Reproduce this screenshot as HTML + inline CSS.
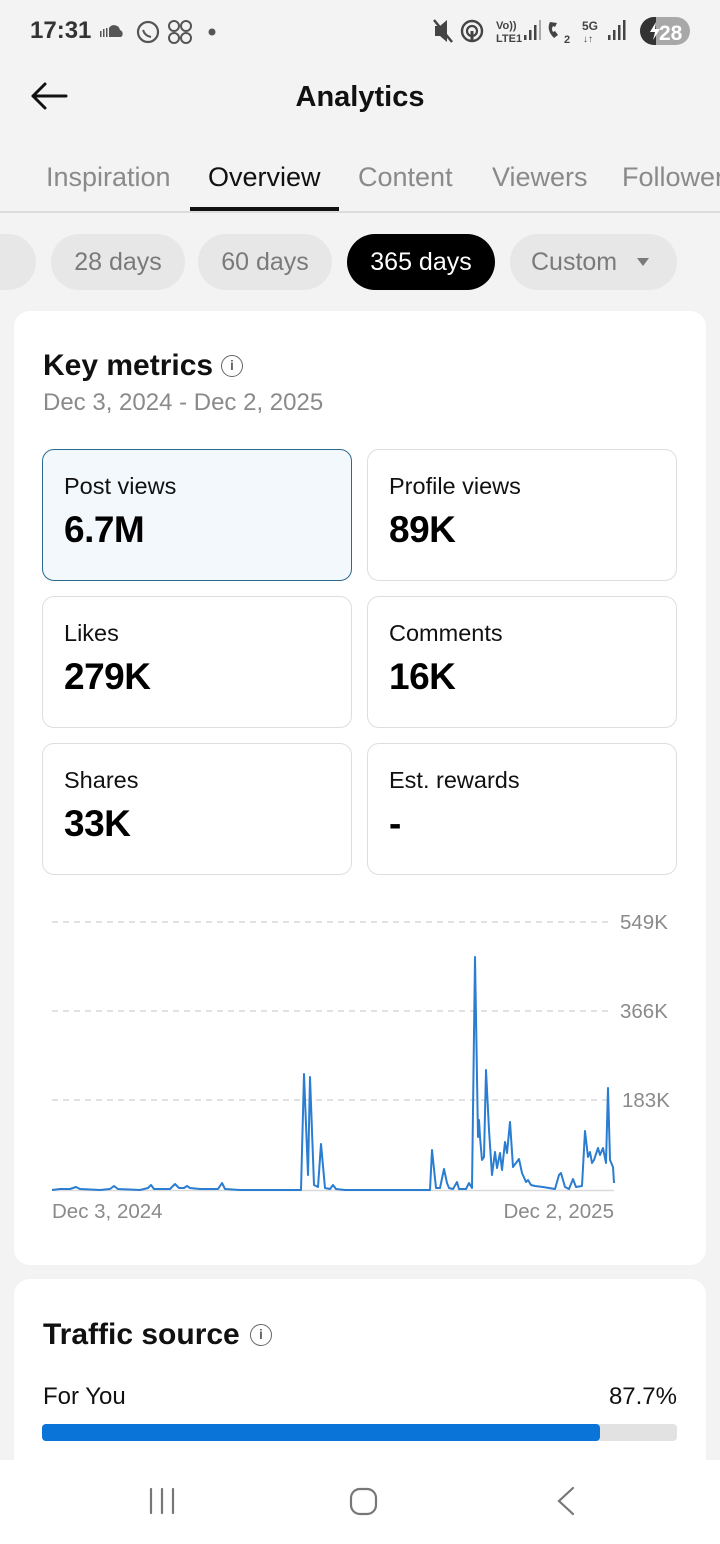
<!DOCTYPE html>
<html><head><meta charset="utf-8">
<style>
*{margin:0;padding:0;box-sizing:border-box}
html,body{width:720px;height:1544px;overflow:hidden;background:#f3f3f3;font-family:"Liberation Sans",sans-serif;}
.a{position:absolute;white-space:nowrap}
.tab{position:absolute;top:161px;font-size:27px;color:#8a8a8a;line-height:32px}
.chip{position:absolute;top:234px;height:56px;border-radius:28px;background:#e7e7e7;color:#7a7a7a;font-size:25px;line-height:56px;text-align:center}
.card{position:absolute;left:14px;width:692px;background:#fff;border-radius:16px}
.box{position:absolute;width:310px;height:132px;border:1.5px solid #dedede;border-radius:12px;background:#fff}
.box .l{position:absolute;left:21px;top:22px;font-size:23.5px;line-height:28px;color:#111}
.box .v{position:absolute;left:21px;top:58px;font-size:37px;font-weight:bold;line-height:44px;color:#000;letter-spacing:-0.5px}
.info{position:absolute;width:22px;height:22px;border:1.8px solid #666;border-radius:50%;font-size:14px;line-height:18px;text-align:center;color:#666;font-weight:bold}
</style></head><body>

<!-- status bar -->
<div class="a" style="left:30px;top:17px;font-size:24px;font-weight:bold;color:#333;line-height:28px">17:31</div>
<svg class="a" style="left:98px;top:18px" width="125" height="28" viewBox="0 0 125 28">
  <g fill="#555"><rect x="2" y="13" width="1.5" height="6"/><rect x="5" y="11" width="1.5" height="8"/><rect x="8" y="10" width="1.5" height="9"/><path d="M11 19 V10 a6 6 0 0 1 11 2 a4 4 0 0 1 1 7 z"/></g>
  <circle cx="50" cy="14" r="10" fill="none" stroke="#555" stroke-width="2.2"/>
  <path d="M45 12 q2 6 8 7" fill="none" stroke="#555" stroke-width="2"/>
  <g fill="none" stroke="#555" stroke-width="2"><circle cx="76" cy="8" r="5"/><circle cx="88" cy="8" r="5"/><circle cx="76" cy="20" r="5"/><circle cx="88" cy="20" r="5"/></g>
  <circle cx="114" cy="14" r="3.5" fill="#555"/>
</svg>
<svg class="a" style="left:430px;top:14px" width="270" height="34" viewBox="0 0 270 34">
  <g fill="#444">
    <path d="M5 12 h5 l7 -6 v22 l-7 -6 h-5z"/>
    <path d="M4 6 l18 22" stroke="#444" stroke-width="2.5"/>
    <circle cx="42" cy="17" r="10" fill="none" stroke="#444" stroke-width="2.4"/>
    <circle cx="42" cy="17" r="5" fill="none" stroke="#444" stroke-width="2.2"/>
    <rect x="40.5" y="17" width="3" height="10"/>
    <text x="66" y="15" font-size="11" font-family="Liberation Sans" font-weight="bold">Vo))</text>
    <text x="66" y="28" font-size="11" font-family="Liberation Sans" font-weight="bold">LTE1</text>
    <rect x="94" y="21" width="2.5" height="5"/><rect x="99" y="16" width="2.5" height="10"/><rect x="104" y="11" width="2.5" height="15"/><rect x="109" y="6" width="2" height="20" fill="#aaa"/>
    <path d="M120 8 q-4 8 4 16 l4 -3 l-3 -4 l-2 1 q-2 -3 0 -6 l2 1 l2 -4 z"/>
    <text x="134" y="29" font-size="11" font-family="Liberation Sans" font-weight="bold">2</text>
    <text x="152" y="16" font-size="12" font-family="Liberation Sans" font-weight="bold">5G</text>
    <text x="153" y="28" font-size="10" font-family="Liberation Sans" font-weight="bold">↓↑</text>
    <rect x="178" y="21" width="2.5" height="5"/><rect x="183" y="16" width="2.5" height="10"/><rect x="188" y="11" width="2.5" height="15"/><rect x="193" y="6" width="2.5" height="20"/>
  </g>
  <rect x="210" y="3" width="50" height="28" rx="14" fill="#a8a8a8"/>
  <path d="M224 3 a14 14 0 0 0 0 28 h2 v-28z" fill="#333"/>
  <path d="M226 8 l-6 10 h5 l-2 8 l7 -11 h-5z" fill="#fff"/>
  <text x="229" y="26" font-size="21" font-family="Liberation Sans" font-weight="bold" fill="#fff">28</text>
</svg>

<!-- header -->
<svg class="a" style="left:28px;top:80px" width="42" height="32" viewBox="0 0 42 32">
  <path d="M38 16 H5 M17 4 L5 16 L17 28" fill="none" stroke="#111" stroke-width="3" stroke-linecap="round" stroke-linejoin="round"/>
</svg>
<div class="a" style="left:0;width:720px;top:80px;text-align:center;font-size:29px;font-weight:bold;color:#111;line-height:34px">Analytics</div>

<!-- tabs -->
<div class="tab" style="left:46px">Inspiration</div>
<div class="tab" style="left:208px;color:#111">Overview</div>
<div class="tab" style="left:358px">Content</div>
<div class="tab" style="left:492px">Viewers</div>
<div class="tab" style="left:622px">Followers</div>
<div class="a" style="left:0;top:211px;width:720px;height:2px;background:#dcdcdc"></div>
<div class="a" style="left:190px;top:207px;width:149px;height:4px;background:#111"></div>

<!-- chips -->
<div class="chip" style="left:-100px;width:136px"></div>
<div class="chip" style="left:51px;width:134px">28 days</div>
<div class="chip" style="left:198px;width:134px">60 days</div>
<div class="chip" style="left:347px;width:148px;background:#000;color:#fff">365 days</div>
<div class="chip" style="left:510px;width:167px;text-align:left;padding-left:21px">Custom</div>
<svg class="a" style="left:636px;top:257px" width="14" height="10" viewBox="0 0 14 10"><path d="M1 1 H13 L7 9z" fill="#7a7a7a"/></svg>

<!-- card 1 -->
<div class="card" style="top:311px;height:954px"></div>
<div class="a" style="left:43px;top:349px;font-size:30px;font-weight:bold;color:#111;line-height:34px">Key metrics</div>
<div class="info" style="left:221px;top:355px">i</div>
<div class="a" style="left:43px;top:389px;font-size:24px;color:#8a8a8a;line-height:28px">Dec 3, 2024 - Dec 2, 2025</div>

<div class="box" style="left:42px;top:449px;background:#f2f8fc;border-color:#2a6a8e"><div class="l">Post views</div><div class="v">6.7M</div></div>
<div class="box" style="left:367px;top:449px"><div class="l">Profile views</div><div class="v">89K</div></div>
<div class="box" style="left:42px;top:596px"><div class="l">Likes</div><div class="v">279K</div></div>
<div class="box" style="left:367px;top:596px"><div class="l">Comments</div><div class="v">16K</div></div>
<div class="box" style="left:42px;top:743px"><div class="l">Shares</div><div class="v">33K</div></div>
<div class="box" style="left:367px;top:743px"><div class="l">Est. rewards</div><div class="v">-</div></div>

<!-- chart -->
<svg class="a" style="left:0;top:900px" width="720" height="330" viewBox="0 900 720 330">
  <g stroke="#cfcfcf" stroke-width="1.3" stroke-dasharray="6 5">
    <line x1="52" y1="922" x2="608" y2="922"/>
    <line x1="52" y1="1011" x2="608" y2="1011"/>
    <line x1="52" y1="1100" x2="608" y2="1100"/>
  </g>
  <line x1="52" y1="1190.5" x2="614" y2="1190.5" stroke="#dadada" stroke-width="1.5"/>
  <g font-family="Liberation Sans" font-size="20.5" fill="#8a8a8a">
    <text x="620" y="929">549K</text>
    <text x="620" y="1018">366K</text>
    <text x="622" y="1107">183K</text>
    <text x="52" y="1218">Dec 3, 2024</text>
    <text x="614" y="1218" text-anchor="end">Dec 2, 2025</text>
  </g>
  <polyline fill="none" stroke="#2a7dd0" stroke-width="2" stroke-linejoin="round" points="52,1190 60,1189 70,1189 76,1187 80,1189 100,1190 110,1189 114,1186 118,1189 140,1190 148,1188 151,1185 154,1189 170,1189 175,1184 179,1188 184,1188 187,1186 190,1188 200,1189 218,1189 222,1183 225,1189 240,1190 301,1190 304,1074 308,1175 310,1077 314,1185 318,1187 321,1144 325,1188 330,1189 333,1185 336,1189 345,1190 430,1190 432,1150 436,1188 440,1188 444,1169 447,1183 449,1188 453,1189 457,1182 459,1189 466,1189 469,1183 472,1188 475,957 478,1137 479,1120 480,1137 482,1160 484,1157 486,1070 489,1130 492,1175 495,1152 497,1168 500,1153 502,1170 505,1142 507,1153 510,1122 513,1167 516,1163 519,1159 522,1173 526,1182 528,1180 531,1185 535,1186 543,1187 555,1189 559,1175 561,1173 565,1187 569,1189 573,1179 576,1187 582,1186 585,1131 588,1157 590,1152 592,1163 594,1160 598,1148 600,1155 603,1148 606,1163 608,1088 610,1160 613,1167 614,1183"/>
</svg>

<!-- card 2 -->
<div class="card" style="top:1279px;height:240px"></div>
<div class="a" style="left:43px;top:1318px;font-size:30px;font-weight:bold;color:#111;line-height:34px">Traffic source</div>
<div class="info" style="left:250px;top:1324px">i</div>
<div class="a" style="left:43px;top:1383px;font-size:24px;color:#111;line-height:28px">For You</div>
<div class="a" style="right:43px;top:1383px;font-size:24px;color:#111;line-height:28px">87.7%</div>
<div class="a" style="left:42px;top:1424px;width:635px;height:17px;background:#e2e2e2;border-radius:4px"></div>
<div class="a" style="left:42px;top:1424px;width:558px;height:17px;background:#0b74d8;border-radius:4px"></div>

<!-- nav bar -->
<div class="a" style="left:0;top:1460px;width:720px;height:84px;background:#fff"></div>
<svg class="a" style="left:0;top:1480px" width="720" height="44" viewBox="0 1480 720 44">
  <g stroke="#777" stroke-width="2.2" fill="none" stroke-linecap="round">
    <line x1="151" y1="1489" x2="151" y2="1513"/><line x1="162" y1="1489" x2="162" y2="1513"/><line x1="173" y1="1489" x2="173" y2="1513"/>
    <rect x="351" y="1489" width="25" height="25" rx="9"/>
    <path d="M573 1488 L559 1501 L573 1514"/>
  </g>
</svg>
</body></html>
